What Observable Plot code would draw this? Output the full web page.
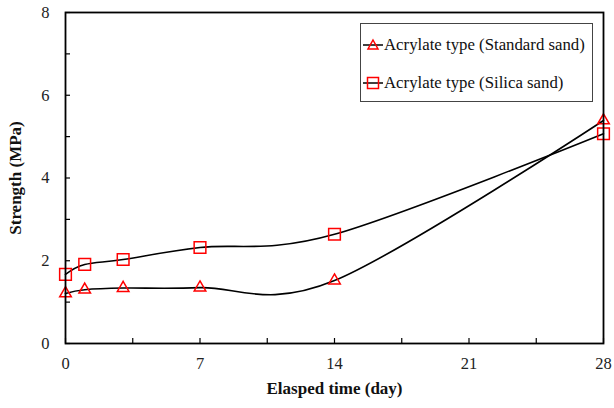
<!DOCTYPE html>
<html>
<head>
<meta charset="utf-8">
<script src="https://cdn.jsdelivr.net/npm/d3@7"></script>
<script src="https://cdn.jsdelivr.net/npm/@observablehq/plot@0.6"></script>
<style>
  body { margin: 0; background: #fff; }
  #wrap { position: relative; width: 614px; height: 408px; font-family: "Liberation Serif", "Times New Roman", serif; }
  #legend { position: absolute; left: 360px; top: 23px; width: 233px; height: 79px; border: 1px solid #444; background: #fff; box-sizing: border-box; font-family: "Liberation Serif", serif; font-size: 16.8px; color: #111; }
  .item { position: absolute; left: 2px; display: flex; align-items: center; height: 20px; white-space: nowrap; }
  .item svg { margin-right: 1px; }
</style>
</head>
<body>
<div id="wrap"></div>
<script>
const days = [0, 1, 3, 7, 14, 28];
const standardSand = [1.21, 1.30, 1.34, 1.35, 1.52, 5.39];
const silicaSand = [1.67, 1.91, 2.03, 2.32, 2.64, 5.07];
const seriesNames = ["Acrylate type (Standard sand)", "Acrylate type (Silica sand)"];
const seriesSymbols = ["triangle", "square"];
const xTicks = [0, 7, 14, 21, 28];
const xMinorTicks = [0, 3.5, 7, 10.5, 14, 17.5, 21, 24.5, 28];
const yTicks = [0, 2, 4, 6, 8];
const yMinorTicks = [0, 1, 2, 3, 4, 5, 6, 7, 8];

const data = [];
days.forEach((d, i) => {
  data.push({day: d, value: standardSand[i], series: seriesNames[0]});
  data.push({day: d, value: silicaSand[i], series: seriesNames[1]});
});

const W = 614, H = 408, mL = 65, mR = 11, mT = 12, mB = 65;
const frameH = H - mT - mB, frameW = W - mL - mR;
const font = '"Liberation Serif", "Times New Roman", serif';

const chart = Plot.plot({
  width: W, height: H,
  marginLeft: mL, marginRight: mR, marginTop: mT, marginBottom: mB,
  style: {fontFamily: font, fontSize: "16px", color: "#222", background: "#fff"},
  x: {domain: [0, 28], ticks: xTicks, label: null},
  y: {domain: [0, 8], ticks: yTicks, label: null},
  marks: [
    Plot.axisX({ticks: xTicks, tickSize: 0, tickPadding: 14, fontSize: 16.5, fill: "#222"}),
    Plot.axisY({ticks: yTicks, tickSize: 0, tickPadding: 16, fontSize: 16.5, fill: "#222"}),
    Plot.tickX(xMinorTicks, {x: d => d, stroke: "#000", strokeWidth: 1.2, insetTop: frameH - 5}),
    Plot.tickY(yMinorTicks, {y: d => d, stroke: "#000", strokeWidth: 1.2, insetRight: frameW - 5}),
    Plot.line(data, {x: "day", y: "value", z: "series", stroke: "#000", strokeWidth: 1.6, curve: "cardinal"}),
    Plot.dot(data.filter(d => d.series === seriesNames[0]), {x: "day", y: "value", symbol: seriesSymbols[0], r: 4.3, stroke: "#ff0000", strokeWidth: 1.5, fill: "none"}),
    Plot.dot(data.filter(d => d.series === seriesNames[1]), {x: "day", y: "value", symbol: seriesSymbols[1], r: 6.6, stroke: "#ff0000", strokeWidth: 1.5, fill: "none"}),
    Plot.frame({stroke: "#000", strokeWidth: 1.8}),
    Plot.text(["Elasped time (day)"], {frameAnchor: "bottom", dy: 50, fontWeight: "bold", fontSize: 17, fill: "#111"}),
    Plot.text(["Strength (MPa)"], {frameAnchor: "left", textAnchor: "middle", dx: -50, rotate: -90, fontWeight: "bold", fontSize: 17, fill: "#111"})
  ]
});

const wrap = document.getElementById("wrap");
wrap.appendChild(chart);

const legend = document.createElement("div");
legend.id = "legend";
const tops = [11, 49];
seriesNames.forEach((name, i) => {
  const item = document.createElement("div");
  item.className = "item";
  item.style.top = tops[i] + "px";
  const shape = seriesSymbols[i] === "triangle"
    ? '<path d="M10,5 L15,14 L5,14 Z" fill="none" stroke="#ff0000" stroke-width="1.5"/>'
    : '<rect x="4.5" y="4.5" width="11" height="11" fill="none" stroke="#ff0000" stroke-width="1.5"/>';
  item.innerHTML = '<svg width="20" height="20"><line x1="0" y1="10" x2="20" y2="10" stroke="#000" stroke-width="1.5"/>' + shape + '</svg><span>' + name + '</span>';
  legend.appendChild(item);
});
wrap.appendChild(legend);
</script>
</body>
</html>
